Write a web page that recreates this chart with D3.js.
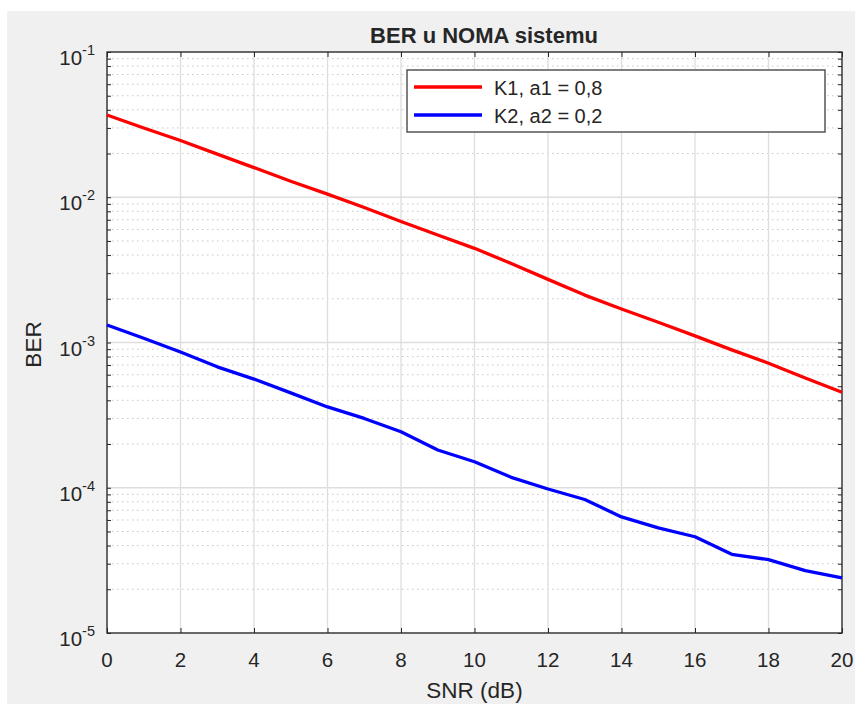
<!DOCTYPE html>
<html>
<head>
<meta charset="utf-8">
<script src="https://cdn.jsdelivr.net/npm/d3@7"></script>
<style>
  body { margin: 0; background: #fff; }
  text { font-family: "Liberation Sans", Arial, sans-serif; fill: #262626; }
</style>
</head>
<body>
<div id="chart"></div>
<script>
// data
const snr = [0, 1, 2, 3, 4, 5, 6, 7, 8, 9, 10, 11, 12, 13, 14, 15, 16, 17, 18, 19, 20];
const berK1 = [0.0368, 0.0300, 0.0246, 0.0198, 0.0160, 0.0129, 0.0105, 0.0085, 0.0068, 0.0055,
  0.00445, 0.0035, 0.00272, 0.00212, 0.00170, 0.00138, 0.00111, 0.00089, 0.00072, 0.00057, 0.000454];
const berK2 = [1.32e-3, 1.07e-3, 8.6e-4, 6.8e-4, 5.6e-4, 4.5e-4, 3.6e-4, 3.0e-4, 2.43e-4, 1.82e-4,
  1.51e-4, 1.18e-4, 9.8e-5, 8.3e-5, 6.3e-5, 5.3e-5, 4.6e-5, 3.48e-5, 3.2e-5, 2.69e-5, 2.4e-5];
const seriesNames = ["K1, a1 = 0,8", "K2, a2 = 0,2"];
const seriesColors = ["#ff0000", "#0000ff"];
const xTicks = [0, 2, 4, 6, 8, 10, 12, 14, 16, 18, 20];
const yExponents = [-1, -2, -3, -4, -5];

const width = 862;
const height = 704;
const margin = { top: 52, bottom: 71, left: 107, right: 20 };
const innerW = width - margin.left - margin.right;
const innerH = height - margin.top - margin.bottom;

const svg = d3.select("#chart").append("svg")
  .attr("width", width)
  .attr("height", height);

// gray figure background
svg.append("rect")
  .attr("x", 7).attr("y", 11)
  .attr("width", 848).attr("height", 693)
  .attr("fill", "#f0f0f0");

const g = svg.append("g")
  .attr("transform", `translate(${margin.left}, ${margin.top})`);

const x = d3.scaleLinear().domain([0, 20]).range([0, innerW]);
const y = d3.scaleLog().domain([1e-5, 1e-1]).range([innerH, 0]);

g.append("rect")
  .attr("width", innerW).attr("height", innerH)
  .attr("fill", "#fff");

// minor grid (dotted)
const minorVals = [];
for (let e = -5; e < -1; e++) {
  for (let m = 2; m <= 9; m++) minorVals.push(m * Math.pow(10, e));
}
g.append("g").selectAll("line").data(minorVals).join("line")
  .attr("x1", 0).attr("x2", innerW)
  .attr("y1", d => y(d)).attr("y2", d => y(d))
  .attr("stroke", "#c8c8c8")
  .attr("stroke-width", 1)
  .attr("stroke-dasharray", "1.5,3.5");

// major grid
g.append("g").selectAll("line").data(xTicks).join("line")
  .attr("x1", d => x(d)).attr("x2", d => x(d))
  .attr("y1", 0).attr("y2", innerH)
  .attr("stroke", "#dedede").attr("stroke-width", 1.3);
g.append("g").selectAll("line").data(yExponents).join("line")
  .attr("x1", 0).attr("x2", innerW)
  .attr("y1", d => y(Math.pow(10, d))).attr("y2", d => y(Math.pow(10, d)))
  .attr("stroke", "#dedede").attr("stroke-width", 1.3);

// axes (ticks inward, like matlab)
const tickCol = "#262626";
const xAxisB = d3.axisBottom(x).tickValues(xTicks).tickSize(-5).tickFormat("");
const xAxisT = d3.axisTop(x).tickValues(xTicks).tickSize(-5).tickFormat("");
const yTickVals = yExponents.map(e => Math.pow(10, e)).concat(minorVals);
const yAxisL = d3.axisLeft(y).tickValues(yTickVals).tickSize(-4).tickFormat("");
const yAxisR = d3.axisRight(y).tickValues(yTickVals).tickSize(-4).tickFormat("");

function styleAxis(sel) {
  sel.select(".domain").remove();
  sel.selectAll("line").attr("stroke", tickCol).attr("stroke-width", 1);
}
g.append("g").attr("transform", `translate(0,${innerH})`).call(xAxisB).call(styleAxis);
g.append("g").call(xAxisT).call(styleAxis);
g.append("g").call(yAxisL).call(styleAxis);
g.append("g").attr("transform", `translate(${innerW},0)`).call(yAxisR).call(styleAxis);

g.append("rect")
  .attr("width", innerW).attr("height", innerH)
  .attr("fill", "none").attr("stroke", tickCol).attr("stroke-width", 1.3);

// tick labels
g.append("g").selectAll("text").data(xTicks).join("text")
  .attr("x", d => x(d)).attr("y", innerH + 34)
  .attr("text-anchor", "middle")
  .attr("font-size", 20.5)
  .text(d => d);

const yLab = g.append("g").selectAll("text").data(yExponents).join("text")
  .attr("x", -12).attr("y", d => y(Math.pow(10, d)) + 13)
  .attr("text-anchor", "end")
  .attr("font-size", 20.5);
yLab.append("tspan").text("10");
yLab.append("tspan").attr("dy", -10).attr("font-size", 14.5).text(d => d);

// lines
const line = d3.line()
  .x((d, i) => x(snr[i]))
  .y(d => y(d));
[berK1, berK2].forEach((s, i) => {
  g.append("path").datum(s)
    .attr("d", line)
    .attr("fill", "none")
    .attr("stroke", seriesColors[i])
    .attr("stroke-width", 3.3)
    .attr("stroke-linejoin", "round");
});

// titles
svg.append("text")
  .attr("x", 484).attr("y", 43)
  .attr("text-anchor", "middle")
  .attr("font-size", 22).attr("font-weight", "bold")
  .attr("fill", "#000")
  .text("BER u NOMA sistemu");
svg.append("text")
  .attr("x", margin.left + innerW / 2).attr("y", 698)
  .attr("text-anchor", "middle")
  .attr("font-size", 22.5)
  .text("SNR (dB)");
svg.append("text")
  .attr("transform", `translate(41, ${margin.top + innerH / 2 + 2}) rotate(-90)`)
  .attr("text-anchor", "middle")
  .attr("font-size", 22.5)
  .text("BER");

// legend
const legend = svg.append("g").attr("transform", "translate(407, 70)");
legend.append("rect")
  .attr("width", 418).attr("height", 62)
  .attr("fill", "#fff").attr("stroke", "#555").attr("stroke-width", 1.5);
seriesNames.forEach((name, i) => {
  const ly = 17 + i * 28;
  legend.append("line")
    .attr("x1", 7).attr("x2", 75)
    .attr("y1", ly).attr("y2", ly)
    .attr("stroke", seriesColors[i]).attr("stroke-width", 3.3);
  legend.append("text")
    .attr("x", 87).attr("y", ly + 7.5)
    .attr("font-size", 20)
    .text(name);
});
</script>
</body>
</html>
